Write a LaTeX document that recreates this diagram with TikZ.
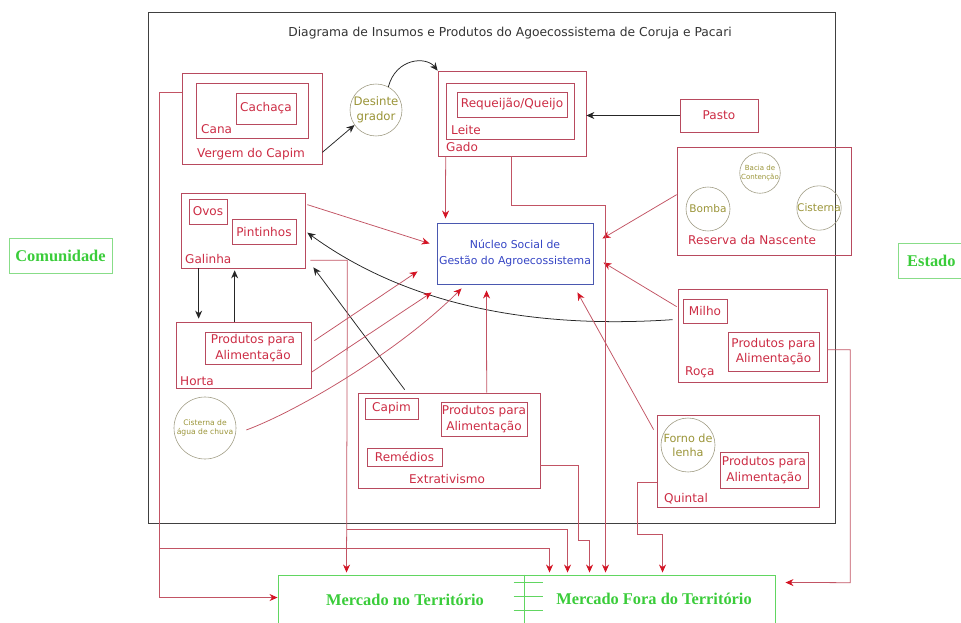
\documentclass[tikz,border=0pt]{standalone}
\usepackage{fontspec}
\setmainfont{DejaVu Sans}
\setsansfont{DejaVu Sans}
\newfontfamily\serifb{Liberation Serif}
\usetikzlibrary{arrows.meta,fit,calc}
\definecolor{bred}{HTML}{B84A5E}
\definecolor{tred}{HTML}{CC2C44}
\definecolor{cred}{HTML}{C25464}
\definecolor{ahred}{HTML}{D41424}
\definecolor{olivet}{HTML}{9A9438}
\definecolor{cgray}{HTML}{A09C84}
\definecolor{nblue}{HTML}{4A58B0}
\definecolor{tblue}{HTML}{3444C4}
\definecolor{mgreen}{HTML}{3ACC3A}
\definecolor{bgreen}{HTML}{88DD88}
\definecolor{framec}{HTML}{404040}
\begin{document}
\begin{tikzpicture}[x=0.3mm,y=-0.3mm, font=\fontsize{10.3}{13.5}\selectfont,
 rbox/.style={draw=bred, line width=0.6pt, inner sep=0pt},
 rtext/.style={text=tred, inner sep=0pt, align=center},
 circ/.style={draw=cgray, circle, line width=0.5pt, inner sep=0pt, text=olivet, align=center},
 rarr/.style={draw=cred, line width=0.65pt, -{Stealth[length=2.4mm,width=2.1mm,color=ahred]}},
 rline/.style={draw=cred, line width=0.65pt},
 barr/.style={draw=black!85, line width=0.65pt, -{Stealth[length=2.4mm,width=2.1mm]}},
 gbox/.style={draw=bgreen, line width=0.7pt, inner sep=0pt},
 gtext/.style={text=mgreen, font=\serifb\bfseries\fontsize{14}{16}\selectfont, inner sep=0pt}
]
\useasboundingbox (0,0) rectangle (961,622);

% frame and title
\node[draw=framec, line width=0.8pt, inner sep=0pt, fit={(148,12)(835,523)}] (frame) {};
\node[text=black!80, inner sep=0pt, font=\fontsize{10.5}{13}\selectfont] (title) at (510,33) {Diagrama de Insumos e Produtos do Agoecossistema de Coruja e Pacari};

% side labels
\node[gbox, fit={(9,238)(112,273)}] (comunidade) {};
\node[gtext] (comunidadeT) at (60.5,256) {Comunidade};
\node[gbox, fit={(898,243)(975,278)}] (estado) {};
\node[gtext, anchor=west] (estadoT) at (907,261) {Estado};

% Vergem do Capim
\node[rbox, fit={(182,73)(322,164)}] (vergem) {};
\node[rbox, fit={(196,83)(308,138)}] (cana) {};
\node[rbox, fit={(236,93)(296,124)}, label={[rtext]center:Cachaça}] (cachaca) {};
\node[rtext, anchor=west] (canaT) at (201,129) {Cana};
\node[rtext, anchor=west] (vergemT) at (197,154) {Vergem do Capim};

% Desintegrador
\node[circ, minimum size=15.6mm, font=\fontsize{10}{13}\selectfont] (desint) at (376,110) {Desinte\\grador};

% Gado
\node[rbox, fit={(438,71)(586,156)}] (gado) {};
\node[rbox, fit={(446,83)(574,139)}] (leite) {};
\node[rbox, fit={(457,92)(567,117)}, label={[rtext]center:Requeijão/Queijo}] (req) {};
\node[rtext, anchor=west] (leiteT) at (451,130) {Leite};
\node[rtext, anchor=west] (gadoT) at (446,147) {Gado};

% Pasto
\node[rbox, fit={(680,99)(758,132)}, label={[rtext]center:Pasto}] (pasto) {};

% Reserva da Nascente
\node[rbox, fit={(677,147)(851,255)}] (reserva) {};
\node[circ, minimum size=13.2mm, font=\fontsize{9}{10}\selectfont] (bomba) at (708,209) {Bomba};
\node[circ, minimum size=12mm, font=\fontsize{6}{7}\selectfont] (bacia) at (760,173) {Bacia de\\Contenção};
\node[circ, minimum size=13.2mm, font=\fontsize{9}{10}\selectfont] (cisterna) at (819,208) {Cisterna};
\node[rtext, anchor=west] (reservaT) at (688,240) {Reserva da Nascente};

% Nucleo
\node[draw=nblue, line width=0.8pt, inner sep=0pt, fit={(437,223)(593,284)},
  label={[text=tblue, align=center, font=\fontsize{9.3}{14}\selectfont]center:Núcleo Social de\\Gestão do Agroecossistema}] (nucleo) {};

% Galinha
\node[rbox, fit={(181,193)(305,268)}] (galinha) {};
\node[rbox, fit={(189,199)(227,224)}, label={[rtext]center:Ovos}] (ovos) {};
\node[rbox, fit={(232,219)(296,244)}, label={[rtext]center:Pintinhos}] (pintinhos) {};
\node[rtext, anchor=west] (galinhaT) at (185,259) {Galinha};

% Horta
\node[rbox, fit={(176,322)(311,388)}] (horta) {};
\node[rbox, fit={(205,332)(301,364)}, label={[rtext]center:Produtos para\\Alimentação}] (hortaP) {};
\node[rtext, anchor=west] (hortaT) at (180,381) {Horta};

% Cisterna de agua de chuva
\node[circ, minimum size=18.6mm, font=\fontsize{6.5}{7.8}\selectfont] (cist) at (205,428) {Cisterna de\\água de chuva};

% Extrativismo
\node[rbox, fit={(358,393)(540,488)}] (extr) {};
\node[rbox, fit={(365,398)(418,419)}, label={[rtext]center:Capim}] (capim) {};
\node[rbox, fit={(441,402)(527,436)}, label={[rtext]center:Produtos para\\Alimentação}] (extrP) {};
\node[rbox, fit={(367,448)(442,466)}, label={[rtext]center:Remédios}] (remedios) {};
\node[rtext] (extrT) at (447,479) {Extrativismo};

% Roca
\node[rbox, fit={(678,289)(827,382)}] (roca) {};
\node[rbox, fit={(683,299)(727,323)}, label={[rtext]center:Milho}] (milho) {};
\node[rbox, fit={(728,332)(819,371)}, label={[rtext]center:Produtos para\\Alimentação}] (rocaP) {};
\node[rtext, anchor=west] (rocaT) at (685,372) {Roça};

% Quintal
\node[rbox, fit={(657,415)(819,507)}] (quintal) {};
\node[circ, minimum size=16.2mm, font=\fontsize{9.6}{12}\selectfont] (forno) at (688,445) {Forno de\\lenha};
\node[rbox, fit={(720,452)(808,488)}, label={[rtext]center:Produtos para\\Alimentação}] (quintalP) {};
\node[rtext, anchor=west] (quintalT) at (664,499) {Quintal};

% Market
\node[draw=mgreen!80, line width=0.8pt, inner sep=0pt, fit={(278,575)(775,640)}] (market) {};
\coordinate (divtop) at ($(market.north west)+(247,0)$);
\coordinate (divbot) at ($(market.south west)+(247,0)$);
\draw[draw=mgreen!80, line width=0.7pt] (divtop) -- (divbot);
\foreach \yy in {8,22,36} {\draw[draw=mgreen!80, line width=0.7pt] ($(divtop)+(-11,\yy)$) -- ($(divtop)+(18,\yy)$);}
\node[gtext] (mercNo) at (405,600) {Mercado no Território};
\node[gtext] (mercFora) at (654,599) {Mercado Fora do Território};

% ---- black connectors
\draw[barr] ($(vergem.south east)+(0,-12)$) -- (desint.215);
\draw[barr] (desint.62) .. controls (396,58) and (426,56) .. (gado.north west);
\draw[barr] (pasto.west) -- (pasto.west -| gado.east);
\draw[barr] ($(galinha.south west)+(18,0)$) -- ($(horta.north west)+(23,-3)$);
\draw[barr] ($(horta.north west)+(59,0)$) -- ($(galinha.south west)+(54,2)$);
\draw[barr] ($(extr.north west)+(47,-3)$) -- ($(galinha.south east)+(8,-1)$);
\draw[barr] ($(roca.north west)+(-5,31)$) .. controls (520,330) and (400,300) .. ($(galinha.north east)+(2,40)$);

% ---- red connectors to Nucleo
\draw[rarr] ($(gado.south west)+(8,0)$) -- ($(nucleo.north west)+(9,-4)$);
\draw[rarr] ($(galinha.north east)+(2,12)$) -- ($(nucleo.west)+(-7,-10)$);
\draw[rarr] ($(horta.north east)+(3,19)$) -- ($(nucleo.south west)+(-19,-13)$);
\draw[rarr] ($(horta.south east)+(0,-16)$) -- ($(nucleo.south west)+(-5,8)$);
\draw[rarr] ($(cist.east)+(10,2)$) .. controls (300,410) and (400,350) .. ($(nucleo.south west)+(25,4)$);
\draw[rarr] ($(extr.north west)+(129,0)$) -- ($(nucleo.south west)+(50,6)$);
\draw[rarr] ($(quintal.north west)+(-3,15)$) -- ($(nucleo.south east)+(-16,8)$);
\draw[rarr] ($(reserva.north west)+(0,48)$) -- ($(nucleo.east)+(9,-15)$);
\draw[rarr] ($(roca.north west)+(-1,18)$) -- ($(nucleo.east)+(10,9)$);

% ---- red connectors to market
\coordinate (vl) at ($(vergem.north west)+(-22,20)$);
\draw[rarr] ($(vergem.north west)+(0,20)$) -- (vl) |- ($(market.north west)+(0,23)$);
\coordinate (vb) at ($(vl)+(0,456)$);
\draw[rarr] (vb) -| ($(market.north west)+(272,-2)$);

\coordinate (gl) at ($(galinha.south east)+(42,-8)$);
\draw[rarr] ($(galinha.south east)+(5,-8)$) -- (gl) -- ($(market.north west)+(69,-2)$);
\coordinate (gb) at ($(market.north west)+(69,-45)$);
\draw[rarr] (gb) -| ($(market.north west)+(290,-2)$);

\coordinate (ex1) at ($(extr.south east)+(38,-23)$);
\coordinate (ex2) at ($(ex1)+(0,75)$);
\draw[rarr] ($(extr.south east)+(0,-23)$) -- (ex1) -- (ex2) -| ($(market.north west)+(312,-2)$);

\coordinate (gd1) at ($(gado.south west)+(74,0)$);
\coordinate (gd2) at ($(gd1)+(0,49)$);
\draw[rarr] (gd1) -- (gd2) -| ($(market.north west)+(328,-2)$);

\coordinate (q1) at ($(quintal.north west)+(-19,68)$);
\coordinate (q2) at ($(q1)+(0,52)$);
\draw[rarr] ($(quintal.north west)+(0,68)$) -- (q1) -- (q2) -| ($(market.north west)+(385,-2)$);

\coordinate (r1) at ($(roca.north east)+(23,61)$);
\coordinate (r2) at ($(r1)+(0,233)$);
\draw[rarr] ($(roca.north east)+(0,61)$) -- (r1) -- (r2) -- ($(market.north east)+(10,8)$);
\end{tikzpicture}
\end{document}
